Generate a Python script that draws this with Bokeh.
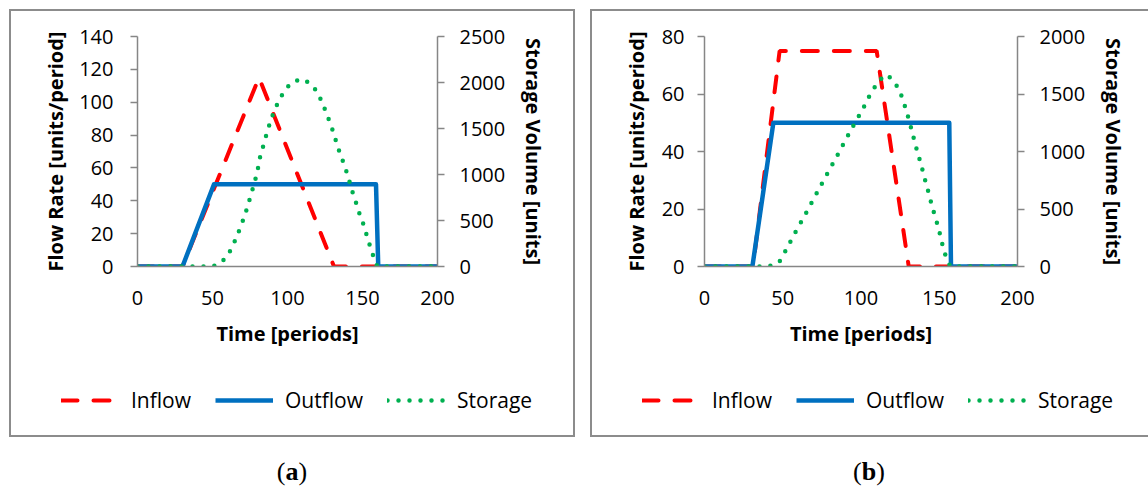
from bokeh.plotting import figure
from bokeh.models import (LinearAxis, Range1d, FixedTicker, Legend, LegendItem,
                          Div, Spacer)
from bokeh.layouts import row, column
from bokeh.embed import file_html
from bokeh.resources import INLINE

# ---------------- data: panel (a) ----------------
t_in_a = [0, 30, 81, 131, 200]
inflow_a = [0, 0, 115, 0, 0]
t_out_a = [0, 30, 51, 159, 160.5, 200]
outflow_a = [0, 0, 50, 50, 0, 0]
t_st_a = [0, 50, 56, 61, 64, 67, 69.6, 72, 74, 76, 78, 80, 81, 83, 85, 87, 89,
          91.6, 94.6, 98.3, 103, 109.6, 115.6, 120, 123, 126, 128.6, 131, 133,
          135.3, 137.8, 140, 142, 144, 146.4, 148.4, 151, 153, 155.3, 157.5,
          159.8, 200]
storage_a = [0, 0, 43, 145, 243, 359, 468, 580, 689, 798, 914, 1030, 1147, 1263,
             1379, 1491, 1600, 1709, 1814, 1919, 2003, 2039, 1985, 1894, 1785,
             1665, 1549, 1440, 1324, 1216, 1107, 998, 885, 773, 660, 552, 443,
             327, 207, 98, 0, 0]

# ---------------- data: panel (b) ----------------
t_in_b = [0, 31, 48, 110, 130.5, 200]
inflow_b = [0, 0, 75, 75, 0, 0]
t_out_b = [0, 30.6, 44, 156.4, 157.5, 200]
outflow_b = [0, 0, 50, 50, 0, 0]
t_st_b = [0, 41, 47.6, 51, 57.5, 64.3, 70.8, 77.5, 84.2, 90.7, 97.2, 100.9,
          103.6, 107.3, 110.9, 116.4, 121.1, 124.6, 127.1, 129.0, 131.0, 132.6,
          134.4, 136.1, 138.2, 139.9, 141.6, 143.5, 145.2, 147.2, 149.1, 150.8,
          152.3, 154.2, 157, 200]
storage_b = [0, 0, 35, 116, 284, 450, 615, 784, 949, 1115, 1277, 1357, 1443,
             1525, 1611, 1670, 1611, 1530, 1438, 1350, 1261, 1171, 1081, 991,
             898, 806, 719, 626, 533, 441, 354, 263, 174, 87, 0, 0]

x_ticks = [0, 50, 100, 150, 200]
left_ticks_a = [0, 20, 40, 60, 80, 100, 120, 140]
right_ticks_a = [0, 500, 1000, 1500, 2000, 2500]
left_ticks_b = [0, 20, 40, 60, 80]
right_ticks_b = [0, 500, 1000, 1500, 2000]

series_names = ["Inflow", "Outflow", "Storage"]
x_label = "Time [periods]"
left_label = "Flow Rate [units/period]"
right_label = "Storage Volume [units]"
captions = ["a", "b"]

FONT = "Open Sans"
AX_GRAY = "#868686"
BOX_GRAY = "#8c8c8c"
RED = "#FF0000"
BLUE = "#0070C0"
GREEN = "#00B050"

H_PLOT = 369
H_LEG = 59

STYLE_IN = dict(line_color=RED, line_width=4, line_dash="16 16", line_cap="round")
STYLE_OUT = dict(line_color=BLUE, line_width=4.5, line_join="round")
STYLE_ST = dict(line_color=GREEN, line_width=4.5, line_dash="0 11", line_cap="round")


def style_axis(ax, tick_out, standoff, label_standoff):
    ax.axis_line_color = AX_GRAY
    ax.axis_line_width = 1.5
    ax.major_tick_line_color = AX_GRAY
    ax.major_tick_line_width = 1.5
    ax.minor_tick_line_color = None
    ax.major_tick_out = tick_out
    ax.major_tick_in = 0
    ax.major_label_standoff = standoff
    ax.major_label_text_font = FONT
    ax.major_label_text_font_size = "20px"
    ax.major_label_text_color = "black"
    ax.axis_label_text_font = FONT
    ax.axis_label_text_font_size = "20px"
    ax.axis_label_text_font_style = "bold"
    ax.axis_label_text_color = "black"
    ax.axis_label_standoff = label_standoff


def make_panel(W, bl, br, t_in, inflow, t_out, outflow, t_st, storage,
               ymax, vmax, lticks, rticks, lstand, llab):
    p = figure(width=W, height=H_PLOT, output_backend="svg", toolbar_location=None,
               x_range=Range1d(0, 200), y_range=Range1d(0, ymax),
               min_border_left=bl, min_border_right=br,
               min_border_top=27, min_border_bottom=112)
    p.extra_y_ranges = {"vol": Range1d(0, vmax)}
    p.grid.visible = False
    p.outline_line_color = None
    p.background_fill_alpha = 0
    p.border_fill_alpha = 0

    p.xaxis.ticker = FixedTicker(ticks=x_ticks)
    p.yaxis.ticker = FixedTicker(ticks=lticks)
    p.xaxis.axis_label = x_label
    p.yaxis.axis_label = left_label
    style_axis(p.xaxis[0], 0, 24, 12)
    style_axis(p.yaxis[0], 7, lstand, llab)

    ra = LinearAxis(y_range_name="vol", ticker=FixedTicker(ticks=rticks),
                    axis_label=right_label)
    style_axis(ra, 7, 15, 12)
    p.add_layout(ra, "right")

    p.line(t_in, inflow, **STYLE_IN)
    p.line(t_out, outflow, **STYLE_OUT)
    p.line(t_st, storage, y_range_name="vol", **STYLE_ST)
    return p


def make_legend_strip(W, t_in, inflow, t_out, outflow, t_st, storage):
    q = figure(width=W, height=H_LEG, output_backend="svg", toolbar_location=None,
               x_range=Range1d(0, 200), y_range=Range1d(0, 1),
               x_axis_location=None, y_axis_location=None,
               min_border=0, min_border_left=0, min_border_right=0,
               min_border_top=0, min_border_bottom=0)
    q.grid.visible = False
    q.outline_line_color = None
    q.background_fill_alpha = 0
    q.border_fill_alpha = 0
    # series drawn in the main panel; here only referenced by the legend
    s_in = q.line(t_in, inflow, visible=False, **STYLE_IN)
    s_out = q.line(t_out, outflow, visible=False, **STYLE_OUT)
    s_st = q.line(t_st, storage, visible=False, **STYLE_ST)
    legend = Legend(items=[LegendItem(label=series_names[0], renderers=[s_in]),
                           LegendItem(label=series_names[1], renderers=[s_out]),
                           LegendItem(label=series_names[2], renderers=[s_st])],
                    orientation="horizontal", location=(52, 23),
                    glyph_width=58, glyph_height=20, label_standoff=12,
                    spacing=24, padding=0, margin=0, click_policy="none",
                    border_line_color=None, background_fill_alpha=0,
                    label_text_font=FONT, label_text_font_size="21px",
                    label_text_color="black")
    q.add_layout(legend, "center")
    return q


def make_caption(letter, W):
    return Div(text="(<b>%s</b>)" % letter, width=W, height=50, margin=0,
               styles={"text-align": "center", "font-family": "Liberation Serif",
                       "font-size": "26px", "line-height": "30px",
                       "padding-top": "20px", "box-sizing": "border-box",
                       "color": "black"})


pa = make_panel(566, 128, 138, t_in_a, inflow_a, t_out_a, outflow_a,
                t_st_a, storage_a, 140, 2500, left_ticks_a, right_ticks_a, 17, 7)
pb = make_panel(558, 114, 131, t_in_b, inflow_b, t_out_b, outflow_b,
                t_st_b, storage_b, 80, 2000, left_ticks_b, right_ticks_b, 13, 9)

leg_a = make_legend_strip(566, t_in_a, inflow_a, t_out_a, outflow_a, t_st_a, storage_a)
leg_b = make_legend_strip(558, t_in_b, inflow_b, t_out_b, outflow_b, t_st_b, storage_b)

box_a = column(pa, row(leg_a),
               styles={"box-shadow": "inset 0 0 0 2px " + BOX_GRAY})
box_b = column(pb, row(leg_b),
               styles={"box-shadow": "inset 2px 0 0 %s, inset 0 2px 0 %s, "
                                     "inset 0 -2px 0 %s" % (BOX_GRAY, BOX_GRAY, BOX_GRAY)})

layout = column(Spacer(width=10, height=9),
                row(Spacer(width=9, height=10),
                    column(box_a, make_caption(captions[0], 566)),
                    Spacer(width=15, height=10),
                    column(box_b, make_caption(captions[1], 558))))
open("out.html", "w").write(file_html(layout, INLINE))
